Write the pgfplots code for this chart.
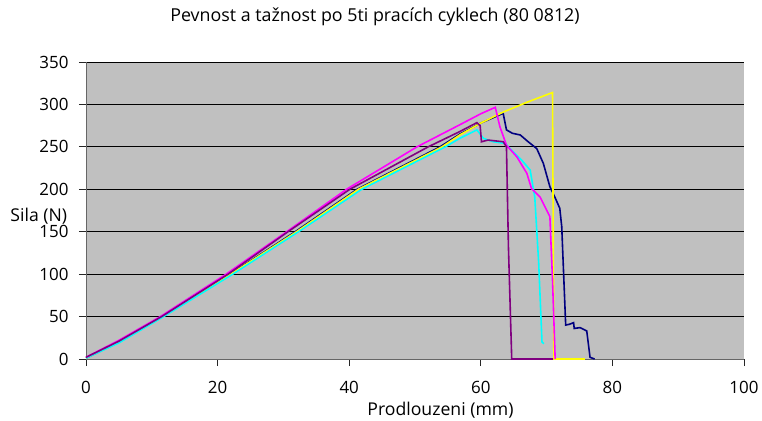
\documentclass[border=0pt]{standalone}
\usepackage{pgfplots}
\pgfplotsset{compat=1.18}
\usepackage{fontspec}
\setmainfont{Open Sans}
\usetikzlibrary{calc}
\definecolor{plotgray}{HTML}{C0C0C0}
\definecolor{xlnavy}{HTML}{000080}
\definecolor{xlmagenta}{HTML}{FF00FF}
\definecolor{xlyellow}{HTML}{FFFF00}
\definecolor{xlcyan}{HTML}{00FFFF}
\definecolor{xlpurple}{HTML}{800080}
\begin{document}
\begin{tikzpicture}
  \begin{axis}[
      name=ax,
      scale only axis,
      width=658bp, height=297bp,
      xmin=0, xmax=100, ymin=0, ymax=350,
      xtick={0,20,...,100}, ytick={0,50,...,350},
      axis background/.style={fill=plotgray},
      axis lines=left,
      axis line style={-, draw=black!60, line width=0.9bp},
      tick align=outside,
      major tick length=7bp,
      tick style={black!85, line width=0.8bp},
      ymajorgrids,
      grid style={black, line width=0.9bp},
      /pgf/number format/assume math mode=true,
      tick label style={font=\fontsize{17}{20}\selectfont},
      xticklabel style={anchor=base, yshift=-27bp},
      yticklabel style={xshift=-7bp},
      title={Pevnost a tažnost po 5ti pracích cyklech (80 0812)},
      title style={font=\fontsize{17.9}{21}\selectfont, at={(0.5,1)},
                   anchor=base, yshift=35bp, xshift=-40bp},
      xlabel={Prodlouzeni (mm)},
      xlabel style={font=\fontsize{17.7}{21}\selectfont, at={(0.5,0)},
                    anchor=base, yshift=-56bp, xshift=25.5bp},
      clip=false,
      every axis plot/.append style={line width=1.6bp, mark=none},
    ]
    % navy
    \addplot[xlnavy] coordinates {
      (0,1)(5,20)(11.6,50)(21.9,100)(31.8,150)(41.2,200)(53.8,250)(56.8,265)
      (60,278)(63.4,289.5)(63.9,270)(64.8,266)(66,264)(67.2,256)(68.5,248)(69.5,230.6)
      (70.5,203)(71.3,190)(72,177.6)(72.3,156)(72.9,40)(73.5,41)(74.1,42.8)(74.2,36)
      (75.1,37)(76.1,33)(76.6,2)(77.3,0)};
    % yellow
    \addplot[xlyellow] coordinates {
      (0,1)(5,20)(11.7,50)(22,100)(32,150)(41.4,200)(54.1,250)(56.8,264)
      (60,278)(63.4,291)(67,302.5)(70.9,314)(71.1,0)(75.8,0)};
    % cyan
    \addplot[xlcyan] coordinates {
      (0,1)(5,19)(11.8,50)(22.3,100)(32.3,150)(41.9,200)(54.6,250)(56.8,260)
      (59.4,270)(60.4,260)(61.9,256)(63.7,254)(64.7,246)(66.2,234.5)(67.5,222.7)
      (68.2,191)(68.8,112.8)(69.3,20)(69.6,18)};
    % magenta
    \addplot[xlmagenta] coordinates {
      (0,2)(5,22)(11.3,50)(21.3,100)(30.5,150)(39.6,200)(50.3,250)(56.8,276)
      (60,289)(62.2,296.6)(62.9,273.8)(63.9,252)(65.5,238)(67,218.8)(67.7,201)
      (69,191)(70.5,167.7)(70.9,93)(71.3,0)};
    % purple
    \addplot[xlpurple] coordinates {
      (0,2)(5,21)(11.5,50)(21.6,100)(30.7,150)(40.1,200)(52,250)(56.8,268)
      (59.4,278.5)(59.9,275)(60.1,256)(61.1,258)(63.4,256)(63.9,250)(64.2,132)
      (64.7,0)(71,0)};
    \node[anchor=base east, font=\fontsize{17.7}{21}\selectfont]
      at ($(rel axis cs:0,0)+(-15.3bp,137.3bp)$) {Sila (N)};
  \end{axis}
  \pgfresetboundingbox
  \path[use as bounding box] ($(ax.south west)+(-86bp,-62bp)$)
    rectangle ($(ax.north east)+(18bp,62bp)$);
\end{tikzpicture}
\end{document}
